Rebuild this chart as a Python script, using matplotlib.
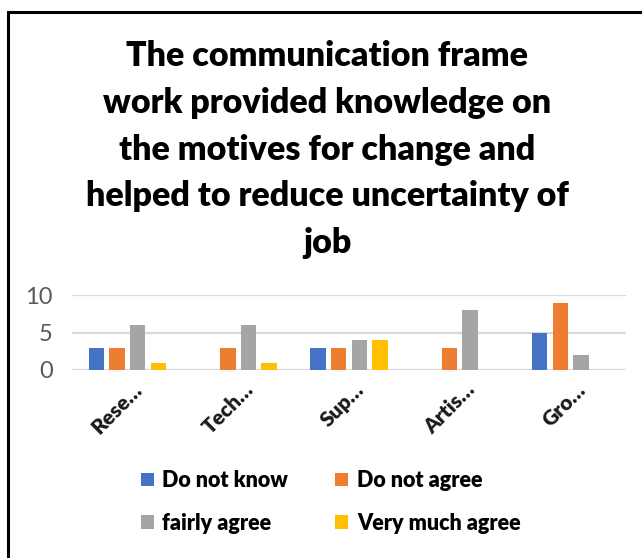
import numpy as np
import matplotlib
matplotlib.use('Agg')
import matplotlib.pyplot as plt
import matplotlib.transforms as mtransforms
from matplotlib.patches import Rectangle, Patch

plt.rcParams['font.family'] = ['Lato', 'DejaVu Sans']

categories = ['Rese…', 'Tech…', 'Sup…', 'Artis…', 'Gro…']
series_names = ['Do not know', 'Do not agree', 'fairly agree', 'Very much agree']
do_not_know = [3, 0, 3, 0, 5]
do_not_agree = [3, 3, 3, 3, 9]
fairly_agree = [6, 6, 4, 8, 2]
very_much_agree = [1, 1, 4, 0, 0]
colors = ['#4472C4', '#ED7D31', '#A5A5A5', '#FFC000']

title = ('The communication frame\nwork provided knowledge on\n'
         'the motives for change and\nhelped to reduce uncertainty of\njob')

fig = plt.figure(figsize=(6.42, 5.58), dpi=100)
fig.patch.set_facecolor('white')

# outer frame of the chart area
fig.patches.append(Rectangle((8 / 642, -0.1), 1.2, 1 - 12 / 558 + 0.1,
                             transform=fig.transFigure, fill=False,
                             edgecolor='black', linewidth=2.2))

ax = fig.add_axes([72 / 642, 1 - 370 / 558, (626 - 72) / 642, 75 / 558])
x = np.arange(len(categories))
width = 0.14
step = 0.186
all_series = [do_not_know, do_not_agree, fairly_agree, very_much_agree]
for i, (vals, col) in enumerate(zip(all_series, colors)):
    ax.bar(x + (i - 1.5) * step, vals, width, color=col, zorder=3)

ax.set_xlim(-0.5, len(categories) - 0.5)
ax.set_ylim(0, 10)
ax.set_yticks([0, 5, 10])
ax.grid(axis='y', color='#D9D9D9', linewidth=1.6, zorder=0)
for s in ax.spines.values():
    s.set_visible(False)
ax.tick_params(axis='both', length=0)
ax.tick_params(axis='y', labelsize=17, labelcolor='#595959', pad=14)
ax.set_xticks(x)
ax.set_xticklabels(categories, rotation=45, ha='right', rotation_mode='anchor',
                   fontsize=15, fontweight='heavy', color='#1a1a1a')
ax.tick_params(axis='x', pad=7)
# nudge the slanted labels a little to the right
shift = mtransforms.ScaledTranslation(5 / 100, 0, fig.dpi_scale_trans)
for lbl in ax.get_xticklabels():
    lbl.set_transform(lbl.get_transform() + shift)

fig.text(0.51, 1 - 40 / 558, title, ha='center', va='top', fontsize=24.5,
         fontweight='heavy', linespacing=1.57)

# legend fills column-wise, so reorder to read row-wise
order = [0, 2, 1, 3]
handles = [Patch(facecolor=colors[k]) for k in order]
labels = [series_names[k] for k in order]
fig.legend(handles, labels, loc='center', ncol=2,
           bbox_to_anchor=(0.515, 1 - 502 / 558), frameon=False,
           prop={'size': 15.5, 'weight': 'heavy'}, handlelength=0.6,
           handleheight=0.6, handletextpad=0.4, columnspacing=2.2,
           labelspacing=1.0)

fig.savefig('out.png', dpi=100)
